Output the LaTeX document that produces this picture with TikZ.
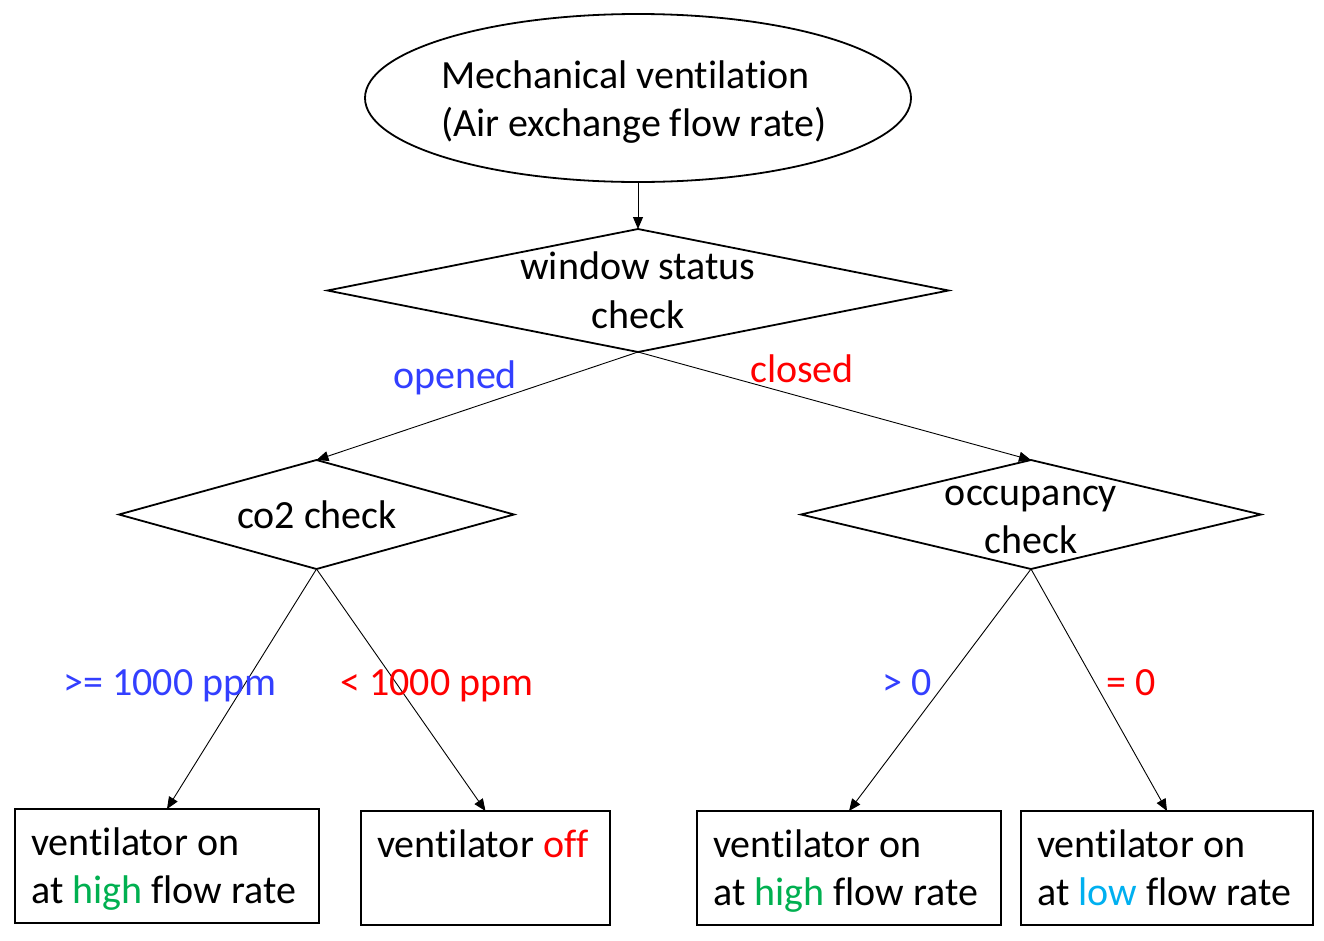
\documentclass[tikz,border=0pt]{standalone}
\usepackage{fontspec}
\setmainfont{Carlito}[Ligatures={CommonOff}]
\usetikzlibrary{shapes.geometric,arrows.meta}
\definecolor{lblblue}{RGB}{51,63,255}
\definecolor{lblred}{RGB}{255,0,0}
\definecolor{lblgreen}{RGB}{0,176,80}
\definecolor{lbllight}{RGB}{0,176,240}
\newcommand{\brk}{\kern0pt{}}
\begin{document}
\begin{tikzpicture}[x=1pt,y=-1pt,
  every node/.style={font=\fontsize{40}{48}\selectfont},
  shapeline/.style={draw=black,line width=1.8pt},
  decision/.style={shapeline,diamond,inner sep=0pt,outer sep=0pt},
  outcome/.style={shapeline,rectangle,inner sep=0pt,outer sep=0pt,minimum height=114pt},
  txt/.style={inner sep=0pt,anchor=base},
  ltxt/.style={inner sep=0pt,anchor=base west},
  conn/.style={draw=black,line width=0.9pt,-{Triangle[length=12pt,width=10pt]}}
]
\useasboundingbox (0,0) rectangle (1324,940);
\fill[white] (0,0) rectangle (1324,940);

% shapes
\node[shapeline,ellipse,inner sep=0pt,outer sep=0pt,minimum width=546pt,minimum height=168pt] (top) at (638,98) {};
\node[decision,minimum width=621pt,minimum height=123pt] (win) at (638,290.5) {};
\node[decision,minimum width=395pt,minimum height=109pt] (co2) at (316.5,514.5) {};
\node[decision,minimum width=460pt,minimum height=109pt] (occ) at (1031,514.5) {};
\node[outcome,minimum width=304pt] (b1) at (167,866) {};
\node[outcome,minimum width=249pt] (b2) at (485.5,868) {};
\node[outcome,minimum width=304pt] (b3) at (849,868) {};
\node[outcome,minimum width=292pt] (b4) at (1167,868) {};

% texts in shapes
\node[ltxt] (t1a) at (441,88) {Mechanical vent\brk ilation};
\node[ltxt] (t1b) at (441,136) {(Air exchange f\brk low rate)};
\node[txt] (t2a) at (638,279) {window status};
\node[txt] (t2b) at (638,328) {check};
\node[txt] (t3) at (317,528) {co2 check};
\node[txt] (t4a) at (1031,505) {occupancy};
\node[txt] (t4b) at (1031,553) {check};
\node[ltxt] (t5a) at (31,855) {ventilator on};
\node[ltxt] (t5b) at (31,903) {at \textcolor{lblgreen}{high} f\brk low rate};
\node[ltxt] (t6a) at (377,857) {ventilator \textcolor{lblred}{of\brk f}};
\node[ltxt] (t7a) at (713,857) {ventilator on};
\node[ltxt] (t7b) at (713,905) {at \textcolor{lblgreen}{high} f\brk low rate};
\node[ltxt] (t8a) at (1037,857) {ventilator on};
\node[ltxt] (t8b) at (1037,905) {at \textcolor{lbllight}{low} f\brk low rate};

% connectors
\draw[conn] (top.south) -- (win.north);
\draw[conn] (win.south) -- (co2.north);
\draw[conn] (win.south) -- (occ.north);
\draw[conn] (co2.south) -- (b1.north);
\draw[conn] (co2.south) -- (b2.north);
\draw[conn] (occ.south) -- (b3.north);
\draw[conn] (occ.south) -- (b4.north);

% branch labels
\node[txt,text=lblblue] (lopen) at (455,388) {opened};
\node[txt,text=lblred] (lclose) at (802,382) {closed};
\node[txt,text=lblblue] (lhi) at (170,695) {>= 1000 ppm};
\node[txt,text=lblred] (llo) at (437,695) {< 1000 ppm};
\node[txt,text=lblblue] (lgt) at (907,695) {> 0};
\node[txt,text=lblred] (leq) at (1131,695) {= 0};
\end{tikzpicture}
\end{document}
